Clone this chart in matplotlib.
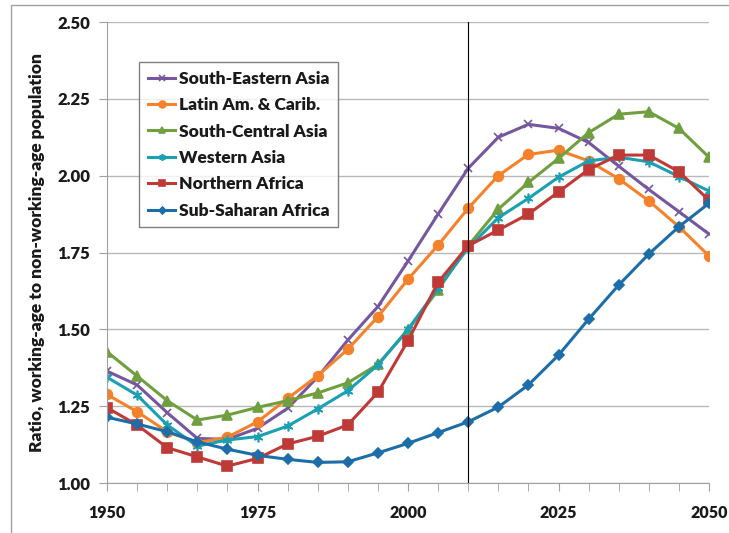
import numpy as np
import matplotlib.pyplot as plt
from matplotlib.patches import Rectangle

plt.rcParams['font.family'] = ['Lato', 'DejaVu Sans']

years = np.arange(1950, 2051, 5)

se_asia = [1.364, 1.319, 1.229, 1.145, 1.142, 1.178, 1.243, 1.345, 1.465, 1.574, 1.722,
           1.875, 2.024, 2.125, 2.167, 2.154, 2.108, 2.031, 1.955, 1.883, 1.81]
latin_am = [1.288, 1.232, 1.167, 1.131, 1.149, 1.199, 1.275, 1.349, 1.435, 1.541, 1.663,
            1.774, 1.894, 2.0, 2.069, 2.083, 2.048, 1.99, 1.918, 1.834, 1.739]
sc_asia = [1.427, 1.348, 1.268, 1.205, 1.221, 1.246, 1.268, 1.293, 1.326, 1.386, 1.498,
           1.628, 1.772, 1.891, 1.978, 2.056, 2.14, 2.2, 2.208, 2.154, 2.06]
w_asia = [1.344, 1.286, 1.189, 1.12, 1.14, 1.151, 1.185, 1.241, 1.30, 1.384, 1.50,
          1.635, 1.765, 1.863, 1.926, 1.995, 2.048, 2.06, 2.045, 1.997, 1.95]
n_africa = [1.245, 1.189, 1.115, 1.085, 1.055, 1.08, 1.127, 1.152, 1.189, 1.295, 1.463,
            1.653, 1.772, 1.823, 1.875, 1.947, 2.02, 2.067, 2.067, 2.013, 1.92]
ss_africa = [1.214, 1.192, 1.167, 1.134, 1.11, 1.09, 1.077, 1.067, 1.069, 1.098, 1.129,
             1.164, 1.199, 1.247, 1.319, 1.416, 1.533, 1.644, 1.745, 1.834, 1.91]

series = [
    ("South-Eastern Asia", se_asia, "#7557a0", "x", 6),
    ("Latin Am. & Carib.", latin_am, "#f5822a", "o", 7),
    ("South-Central Asia", sc_asia, "#6f9f3f", "^", 7),
    ("Western Asia", w_asia, "#1b9fb3", (6, 2, 0), 7),
    ("Northern Africa", n_africa, "#bf3a37", "s", 7),
    ("Sub-Saharan Africa", ss_africa, "#1d6ea8", "D", 5),
]

fig = plt.figure(figsize=(7.29, 5.33), dpi=100)
ax = fig.add_axes([107 / 729, 1 - 483 / 533, 602 / 729, 461 / 533])

# chart-area frame: only its left and top edges are inside the picture
fig.patches.append(Rectangle((11 / 729, -0.1), 1.0, 1.1 - 5 / 533, transform=fig.transFigure,
                             fill=False, edgecolor="#a0a0a0", linewidth=1.0))

for name, vals, col, mk, ms in series:
    ax.plot(years, vals, color=col, marker=mk, markersize=ms, linewidth=2.2,
            markeredgewidth=1.2, label=name)

ax.axvline(2010, color="black", linewidth=0.8)

ax.set_xlim(1950, 2050)
ax.set_ylim(1.0, 2.5)
ax.set_xticks(np.arange(1950, 2051, 25))
ax.set_xticks(np.arange(1950, 2051, 5), minor=True)
ax.set_yticks(np.arange(1.0, 2.51, 0.25))
ax.set_yticklabels(["%.2f" % v for v in np.arange(1.0, 2.51, 0.25)])
ax.grid(axis="y", color="#b8b8b8", linewidth=1.0)
ax.set_axisbelow(True)

for s in ["top", "right"]:
    ax.spines[s].set_visible(False)
for s in ["left", "bottom"]:
    ax.spines[s].set_color("#a0a0a0")
ax.tick_params(axis="both", which="both", colors="#a0a0a0", labelcolor="#1a1a1a",
               direction="out", length=6, labelsize=12)
ax.tick_params(axis="x", labelsize=11.5, pad=10)
ax.tick_params(axis="y", pad=6)
for lbl in ax.get_xticklabels() + ax.get_yticklabels():
    lbl.set_fontweight("heavy")

ax.set_ylabel("Ratio, working-age to non-working-age population", fontsize=12.5,
              fontweight="heavy", color="#1a1a1a", labelpad=9)

leg = ax.legend(loc="upper left", bbox_to_anchor=(32 / 602, 1 - 40 / 461), borderaxespad=0,
                prop={"weight": "heavy", "size": 12.5}, markerscale=0.7,
                frameon=True, fancybox=False, edgecolor="#606060", handlelength=1.6,
                handletextpad=0.2, labelspacing=0.6, borderpad=0.5)
leg.get_frame().set_linewidth(1.0)
for t in leg.get_texts():
    t.set_color("#1a1a1a")

fig.savefig("out.png", dpi=100)
